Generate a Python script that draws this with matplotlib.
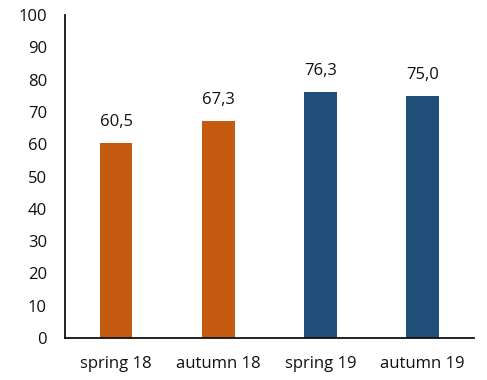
import matplotlib.pyplot as plt

plt.rcParams['font.family'] = ['Open Sans', 'DejaVu Sans']

seasons = ['spring 18', 'autumn 18', 'spring 19', 'autumn 19']
scores = [60.5, 67.3, 76.3, 75.0]
bar_colors = ['#C55A11', '#C55A11', '#1F4E79', '#1F4E79']

fig = plt.figure(figsize=(4.87, 3.8), dpi=100)
ax = fig.add_axes([0.1335, 0.1105, 0.8395, 0.85])

x = range(len(seasons))
bars = ax.bar(x, scores, width=0.32, color=bar_colors)

for b, v in zip(bars, scores):
    ax.annotate(f'{v:.1f}'.replace('.', ','),
                (b.get_x() + b.get_width() / 2, v),
                xytext=(0, 9), textcoords='offset points',
                ha='center', va='bottom', fontsize=12, color='#111111')

ax.set_xlim(-0.5, 3.5)
ax.set_ylim(0, 100)
ax.set_yticks(range(0, 101, 10))
ax.set_xticks(list(x))
ax.set_xticklabels(seasons)
ax.tick_params(axis='both', length=0, labelsize=12, colors='#111111')
ax.tick_params(axis='x', pad=13)
ax.tick_params(axis='y', pad=13)

for side in ['top', 'right']:
    ax.spines[side].set_visible(False)
for side in ['left', 'bottom']:
    ax.spines[side].set_linewidth(1.3)
    ax.spines[side].set_color('#111111')

fig.savefig('out.png', dpi=100)
